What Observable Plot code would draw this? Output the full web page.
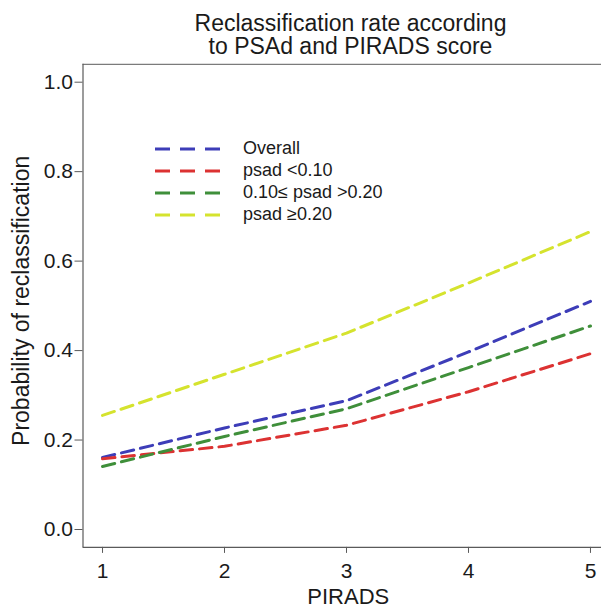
<!DOCTYPE html>
<html><head><meta charset="utf-8">
<script src="https://cdn.jsdelivr.net/npm/d3@7"></script>
<script src="https://cdn.jsdelivr.net/npm/@observablehq/plot@0.6"></script>
<style>
body{margin:0;background:#fff;font-family:"Liberation Sans",Arial,Helvetica,sans-serif;}
#wrap{position:relative;width:601px;height:607px;overflow:hidden;background:#fff;}
#title{box-sizing:border-box;height:58px;padding-top:12px;padding-left:100px;text-align:center;font-size:23px;line-height:23px;color:#1a1a1a;}
#legend{position:absolute;left:150px;top:135px;}
</style></head><body>
<div id="wrap">
<div id="title">Reclassification rate according<br>to PSAd and PIRADS score</div>
<div id="chart"></div>
<div id="legend"></div>
</div>
<script>
const pirads = [1, 2, 3, 4, 5];
const seriesNames = ["Overall", "psad <0.10", "0.10\u2264 psad >0.20", "psad \u22650.20"];
const seriesColors = ["#3d3db8", "#dc3232", "#3f8f3a", "#d5e32e"];
const overall = [0.161, 0.227, 0.288, 0.397, 0.510];
const psadLow = [0.158, 0.186, 0.233, 0.308, 0.393];
const psadMid = [0.141, 0.208, 0.270, 0.362, 0.455];
const psadHigh = [0.255, 0.347, 0.439, 0.551, 0.666];
const xTicks = [1, 2, 3, 4, 5];
const yTicks = [0, 0.2, 0.4, 0.6, 0.8, 1.0];
const xDomain = [0.84, 5.16];
const yDomain = [-0.04, 1.04];
const yLabel = "Probability of reclassification";
const xLabel = "PIRADS";

const seriesValues = [overall, psadLow, psadMid, psadHigh];
const data = seriesValues.flatMap((vals, i) =>
  pirads.map((p, j) => ({pirads: p, prob: vals[j], series: seriesNames[i]})));

const font = '"Liberation Sans", Arial, Helvetica, sans-serif';
const axisColor = "#5a5a5a";

const chart = Plot.plot({
  width: 601,
  height: 549,
  marginLeft: 82.5,
  marginRight: 0,
  marginTop: 5.8,
  marginBottom: 60.1,
  x: {domain: xDomain, range: [82.5, 609.5]},
  y: {domain: yDomain},
  color: {domain: seriesNames, range: seriesColors},
  style: {fontFamily: font, fontSize: "21px", background: "white", color: "#1a1a1a"},
  marks: [
    Plot.ruleY([yDomain[1]], {stroke: axisColor, strokeWidth: 1}),
    Plot.ruleY([yDomain[0]], {stroke: axisColor, strokeWidth: 1.2}),
    Plot.ruleX([xDomain[0]], {stroke: axisColor, strokeWidth: 1.2}),
    Plot.axisY(yTicks, {tickFormat: d => d.toFixed(1), fontSize: 21, tickSize: 8, tickPadding: 2, label: null, stroke: axisColor}),
    Plot.axisX(xTicks, {tickFormat: d => String(d), fontSize: 21, tickSize: 6, tickPadding: 10, label: null, stroke: axisColor}),
    Plot.line(data, {x: "pirads", y: "prob", stroke: "series", z: "series", strokeWidth: 3, strokeDasharray: "12.5,7"}),
    Plot.text([yLabel], {text: d => d, frameAnchor: "left", textAnchor: "middle", rotate: -90, dx: -54, dy: -5, lineAnchor: "bottom", fontSize: 23}),
    Plot.text([xLabel], {text: d => d, frameAnchor: "bottom", textAnchor: "middle", dy: 57, dx: 6, lineAnchor: "bottom", fontSize: 22})
  ]
});
document.getElementById("chart").appendChild(chart);

// legend overlay
const lg = d3.select("#legend").append("svg").attr("width", 240).attr("height", 95)
  .style("font-family", font);
seriesNames.forEach((name, i) => {
  const cy = 14 + i * 22;
  lg.append("line").attr("x1", 5).attr("x2", 77).attr("y1", cy).attr("y2", cy)
    .attr("stroke", seriesColors[i]).attr("stroke-width", 3).attr("stroke-dasharray", "15,10");
  lg.append("text").attr("x", 93).attr("y", cy + 4.5).attr("font-size", 18)
    .attr("fill", "#1a1a1a").text(name);
});
</script>
</body></html>
